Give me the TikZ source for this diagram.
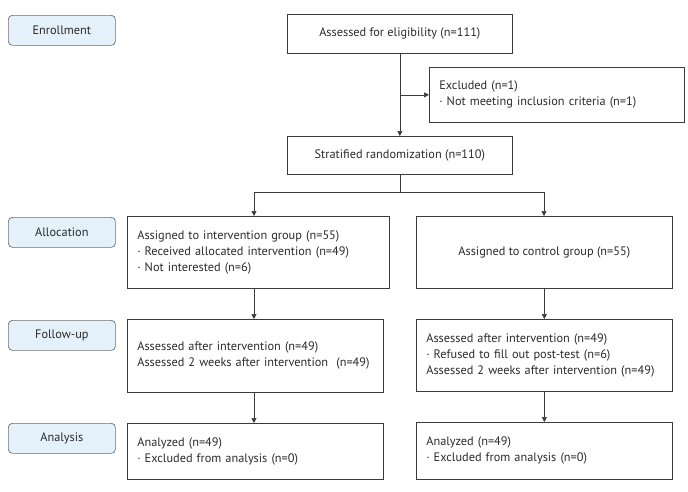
\documentclass[tikz,border=0pt]{standalone}
\usepackage{fontspec}
\setmainfont{PT Sans}
\usetikzlibrary{arrows.meta}
\definecolor{lineclr}{HTML}{3A3A3A}
\definecolor{labfill}{HTML}{E4F0FA}
\definecolor{labline}{HTML}{6E6E6E}
\definecolor{txtclr}{HTML}{2A2A2A}
\begin{document}
\begin{tikzpicture}[x=1pt,y=-1pt,
  every node/.style={text=txtclr},
  box/.style={draw=lineclr, line width=0.7pt, inner xsep=10pt, inner ysep=0pt,
    anchor=north west, font=\fontsize{12.3}{16}\selectfont},
  lbox/.style={box, align=left},
  cbox/.style={box, align=center},
  stage/.style={draw=labline, fill=labfill, line width=0.7pt, rounded corners=4pt,
    anchor=north west, inner sep=0pt, minimum width=107pt, minimum height=30pt,
    align=center, font=\fontsize{12.3}{14}\selectfont},
  arr/.style={draw=lineclr, line width=0.7pt, -{Triangle[length=5pt,width=5pt]}},
  ln/.style={draw=lineclr, line width=0.7pt}]
\useasboundingbox (0,0) rectangle (688,491);
% stage labels
\node[stage] (enroll) at (8,15) {Enrollment};
\node[stage] (alloc) at (8,217) {Allocation};
\node[stage] (follow) at (8,320) {Follow-up};
\node[stage] (analysis) at (8,423) {Analysis};
% boxes
\node[cbox, minimum width=225pt, minimum height=39pt] (assess) at (287,14) {Assessed for eligibility (n=111)};
\node[lbox, text width=235pt, minimum height=55pt] (excl) at (429,67) {Excluded (n=1)\\\textperiodcentered\ Not meeting inclusion criteria (n=1)};
\node[cbox, minimum width=225pt, minimum height=38pt] (strat) at (287,136) {Stratified randomization (n=110)};
\node[lbox, text width=242pt, minimum height=72pt] (int) at (127,216) {Assigned to intervention group (n=55)\\\textperiodcentered\ Received allocated intervention (n=49)\\\textperiodcentered\ Not interested (n=6)};
\node[cbox, minimum width=256pt, minimum height=72pt] (ctrl) at (416,216) {Assigned to control group (n=55)};
\node[lbox, text width=236pt, minimum height=73pt] (fint) at (127,319) {Assessed after intervention (n=49)\\Assessed 2 weeks after intervention\ \ (n=49)};
\node[lbox, text width=236pt, minimum height=72pt] (fctrl) at (416,319) {Assessed after intervention (n=49)\\\textperiodcentered\ Refused to fill out post-test (n=6)\\Assessed 2 weeks after intervention (n=49)};
\node[lbox, text width=236pt, minimum height=56pt] (aint) at (127,423) {Analyzed (n=49)\\\textperiodcentered\ Excluded from analysis (n=0)};
\node[lbox, text width=236pt, minimum height=57pt] (actrl) at (416,422) {Analyzed (n=49)\\\textperiodcentered\ Excluded from analysis (n=0)};
% connectors
\draw[arr] (assess.south) -- (strat.north);
\draw[arr] (assess.south |- excl.west) -- (excl.west);
\coordinate (li) at (254,192);
\coordinate (ri) at (544,192);
\coordinate (split) at (strat.south |- li);
\draw[ln] (strat.south) -- (split);
\draw[ln] (li) -- (ri);
\draw[arr] (li) -- (li |- int.north);
\draw[arr] (ri) -- (ri |- ctrl.north);
\draw[arr] (li |- int.south) -- (li |- fint.north);
\draw[arr] (fint.south -| li) -- (li |- aint.north);
\draw[arr] (ctrl.south) -- (fctrl.north);
\draw[arr] (fctrl.south) -- (actrl.north);
\end{tikzpicture}
\end{document}
